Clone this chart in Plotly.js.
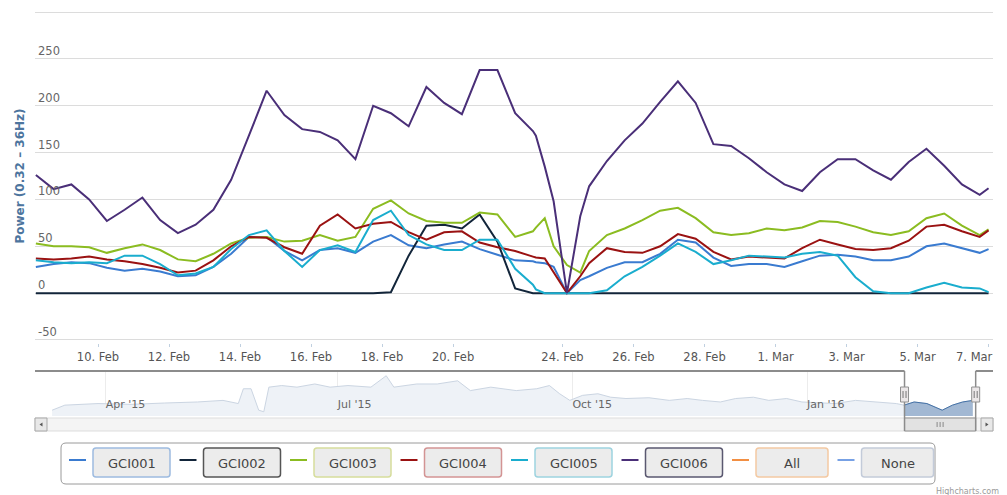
<!DOCTYPE html>
<html><head><meta charset="utf-8">
<script src="https://cdn.plot.ly/plotly-3.0.1.min.js"></script>
<style>html,body{margin:0;padding:0;background:#fff}#chart{width:1007px;height:495px}</style>
</head><body><div id="chart"></div>
<script>
// ---------- data ----------
const times = [
'2016-02-08 06:00','2016-02-08 18:00','2016-02-09 06:00','2016-02-09 18:00',
'2016-02-10 06:00','2016-02-10 18:00','2016-02-11 06:00','2016-02-11 18:00',
'2016-02-12 06:00','2016-02-12 18:00','2016-02-13 06:00','2016-02-13 18:00',
'2016-02-14 06:00','2016-02-14 18:00','2016-02-15 06:00','2016-02-15 18:00',
'2016-02-16 06:00','2016-02-16 18:00','2016-02-17 06:00','2016-02-17 18:00',
'2016-02-18 06:00','2016-02-18 18:00','2016-02-19 06:00','2016-02-19 18:00',
'2016-02-20 06:00','2016-02-20 18:00','2016-02-21 06:00','2016-02-21 18:00',
'2016-02-22 06:00',
'2016-02-23 06:00','2016-02-23 12:00','2016-02-23 18:00',
'2016-02-24 03:00','2016-02-24 12:00','2016-02-24 18:00',
'2016-02-25 06:00','2016-02-25 18:00','2016-02-26 06:00','2016-02-26 18:00',
'2016-02-27 06:00','2016-02-27 18:00','2016-02-28 06:00','2016-02-28 18:00',
'2016-02-29 06:00','2016-02-29 18:00','2016-03-01 06:00','2016-03-01 18:00',
'2016-03-02 06:00','2016-03-02 18:00','2016-03-03 06:00','2016-03-03 18:00',
'2016-03-04 06:00','2016-03-04 18:00','2016-03-05 06:00','2016-03-05 18:00',
'2016-03-06 06:00','2016-03-06 18:00','2016-03-07 00:00'
];
const gci001 = [28,31,33,32,27,24,26,23,18,19,28,42,60,60,45,35,46,48,43,55,62,51,48,52,55,47,41,35,34,
 33,32,28,0,14,18,27,33,33,42,57,54,38,29,31,31,28,34,40,41,39,35,35,39,50,53,48,43,47];
const gci002 = [0,0,0,0,0,0,0,0,0,0,0,0,0,0,0,0,0,0,0,0,1,40,72,73,69,84,55,5,0,
 0,0,0,0,0,0,0,0,0,0,0,0,0,0,0,0,0,0,0,0,0,0,0,0,0,0,0,0,0];
const gci003 = [53,50,50,49,43,48,52,46,36,34,42,53,59,60,55,56,62,56,60,90,99,85,77,75,75,86,84,60,66,
 70,80,50,30,22,45,62,69,78,88,91,80,65,62,64,69,67,70,77,76,71,65,62,66,80,85,72,62,68];
const gci004 = [37,36,37,39,36,34,31,27,22,24,35,50,60,59,49,42,72,84,69,74,76,65,57,65,66,54,49,45,39,
 38,37,22,0,18,32,48,44,43,50,63,58,44,36,39,38,37,48,57,52,47,46,48,56,71,73,66,60,67];
const gci005 = [35,33,32,33,32,40,40,31,19,21,28,47,62,67,45,28,46,51,44,78,88,62,52,46,46,57,57,26,9,
 4,0,0,0,0,0,3,18,28,40,53,44,31,35,40,39,38,42,44,40,17,2,0,0,6,11,6,5,1];
const gci006 = [126,111,116,100,77,89,102,78,64,73,89,121,168,216,190,175,172,163,143,200,192,178,220,203,191,238,238,192,173,
 168,135,98,0,82,114,141,163,181,204,226,203,159,157,144,129,116,109,129,143,143,131,121,140,154,136,116,105,112];

const seriesNames  = ['GCI001','GCI002','GCI003','GCI004','GCI005','GCI006'];
const seriesValues = [gci001, gci002, gci003, gci004, gci005, gci006];
const seriesColors = ['#3a7bd0','#12253a','#8bbc21','#9a1212','#1aadce','#4a2f78'];

const xTickVals = ['2016-02-10','2016-02-12','2016-02-14','2016-02-16','2016-02-18','2016-02-20',
  '2016-02-24','2016-02-26','2016-02-28','2016-03-01','2016-03-03','2016-03-05','2016-03-07'];
const xTickText = ['10. Feb','12. Feb','14. Feb','16. Feb','18. Feb','20. Feb',
  '24. Feb','26. Feb','28. Feb','1. Mar','3. Mar','5. Mar','7. Mar'];
const yTickVals = [-50,0,50,100,150,200,250,300];
const yTickText = ['-50','0','50','100','150','200','250',''];

// navigator (full period overview)
const navDates = ['2015-03-11','2015-03-16','2015-03-29','2015-04-11','2015-04-24','2015-05-07','2015-05-17',
 '2015-05-23','2015-05-25','2015-05-28','2015-05-31','2015-06-02','2015-06-04','2015-06-09','2015-06-15',
 '2015-06-22','2015-06-28','2015-07-05','2015-07-14','2015-07-20','2015-07-23','2015-08-01','2015-08-09',
 '2015-08-17','2015-08-22','2015-08-30','2015-09-09','2015-09-17','2015-09-22','2015-09-26','2015-09-30',
 '2015-10-05','2015-10-11','2015-10-16','2015-10-22','2015-10-31','2015-11-08','2015-11-15','2015-11-21',
 '2015-11-28','2015-12-04','2015-12-11','2015-12-17','2015-12-24','2015-12-30','2016-01-12','2016-01-20',
 '2016-01-28','2016-02-05','2016-02-08','2016-02-12','2016-02-17','2016-02-23','2016-02-27','2016-03-02','2016-03-06'];
const navValues = [22,41,47,44,49,53,59,47,103,103,22,16,109,115,109,121,109,115,109,152,109,121,121,133,96,109,
 96,103,115,84,59,78,84,71,66,69,59,66,59,53,66,71,59,66,53,47,59,53,47,41,53,47,22,41,53,59];
const navTickVals = ['2015-04-01','2015-07-01','2015-10-01','2016-01-01'];
const navTickText = ["Apr '15","Jul '15","Oct '15","Jan '16"];
const viewRange = ['2016-02-08 05:25','2016-03-07 03:00'];
const navRange  = ['2015-03-04 07:00','2016-03-13 22:00'];

const legendNames   = ['GCI001','GCI002','GCI003','GCI004','GCI005','GCI006','All','None'];
const legendColors  = ['#3a7bd0','#12253a','#8bbc21','#9a1212','#1aadce','#4a2f78','#f28f43','#77a1e5'];
const legendBorders = ['#9dbbe0','#555555','#d6dd9c','#d39494','#9dd3df','#5a5870','#f3c9a2','#c3cbd9'];

// ---------- helpers (pixel -> paper for decorations) ----------
const W = 1007, H = 495, L = 35, R = 14;
const px = x => (x - L) / (W - L - R);
const py = y => 1 - y / H;
function rrect(x0, y0, x1, y1, r) {
  return `M ${px(x0+r)},${py(y0)} L ${px(x1-r)},${py(y0)} Q ${px(x1)},${py(y0)} ${px(x1)},${py(y0+r)} ` +
         `L ${px(x1)},${py(y1-r)} Q ${px(x1)},${py(y1)} ${px(x1-r)},${py(y1)} L ${px(x0+r)},${py(y1)} ` +
         `Q ${px(x0)},${py(y1)} ${px(x0)},${py(y1-r)} L ${px(x0)},${py(y0+r)} Q ${px(x0)},${py(y0)} ${px(x0+r)},${py(y0)} Z`;
}
const FONT = 'DejaVu Sans, Verdana, sans-serif';
const toMs = s => new Date(s.replace(' ', 'T')).getTime();

// ---------- traces ----------
const traces = seriesNames.map((n, i) => ({
  type: 'scatter', mode: 'lines', name: n, x: times, y: seriesValues[i],
  line: {color: seriesColors[i], width: 2}, xaxis: 'x', yaxis: 'y', showlegend: false, hoverinfo: 'skip'
}));
// navigator: whole period (faded) + selected window (highlighted)
traces.push({
  type: 'scatter', mode: 'lines', name: 'Navigator', x: navDates, y: navValues, fill: 'tozeroy',
  fillcolor: '#eef2f7', line: {color: '#cbd5e2', width: 1}, xaxis: 'x2', yaxis: 'y2',
  showlegend: false, hoverinfo: 'skip'
});
const selIdx = navDates.map((d, i) => i).filter(i => toMs(navDates[i]) >= toMs(viewRange[0]) - 86400000 && toMs(navDates[i]) <= toMs(viewRange[1]));
traces.push({
  type: 'scatter', mode: 'lines', name: 'Navigator (view)', x: selIdx.map(i => navDates[i]), y: selIdx.map(i => navValues[i]),
  fill: 'tozeroy', fillcolor: 'rgba(69,114,167,0.45)', line: {color: '#4572A7', width: 1}, xaxis: 'x2', yaxis: 'y2',
  showlegend: false, hoverinfo: 'skip'
});

// ---------- shapes ----------
const shapes = [];
const navTop = 371, navBot = 416, sbTop = 418, sbBot = 431;
// scrollbar track
shapes.push({type:'rect', xref:'paper', yref:'paper', x0:0, x1:1, y0:py(sbBot), y1:py(sbTop),
  fillcolor:'#f4f4f4', line:{color:'#dddddd', width:1}, layer:'above'});
// buttons
[[35,47],[981,993]].forEach(b => shapes.push({type:'rect', xref:'paper', yref:'paper', x0:px(b[0]), x1:px(b[1]),
  y0:py(sbBot), y1:py(sbTop), fillcolor:'#e8e8e8', line:{color:'#a8a8a8', width:1}, layer:'above'}));
shapes.push({type:'path', xref:'paper', yref:'paper', layer:'above',
  path:`M ${px(39.5)},${py(424.5)} L ${px(42.5)},${py(422.5)} L ${px(42.5)},${py(426.5)} Z`, fillcolor:'#555', line:{width:0}});
shapes.push({type:'path', xref:'paper', yref:'paper', layer:'above',
  path:`M ${px(988.5)},${py(424.5)} L ${px(985.5)},${py(422.5)} L ${px(985.5)},${py(426.5)} Z`, fillcolor:'#555', line:{width:0}});
// thumb
shapes.push({type:'rect', xref:'x2', yref:'paper', x0:viewRange[0], x1:viewRange[1], y0:py(sbBot), y1:py(sbTop),
  fillcolor:'#e2e2e2', line:{color:'#8f8f8f', width:1}, layer:'above'});
const midMs = (toMs(viewRange[0]) + toMs(viewRange[1])) / 2;
[-3,0,3].forEach(o => shapes.push({type:'line', xref:'x2', yref:'paper', xsizemode:'pixel', xanchor:midMs,
  x0:o, x1:o, y0:py(427), y1:py(422), line:{color:'#888', width:1}, layer:'above'}));
// outline
shapes.push({type:'line', xref:'x2', yref:'paper', x0:navRange[0], x1:viewRange[0], y0:py(navTop), y1:py(navTop), line:{color:'#8c8c8c', width:2}, layer:'above'});
shapes.push({type:'line', xref:'x2', yref:'paper', x0:viewRange[1], x1:navRange[1], y0:py(navTop), y1:py(navTop), line:{color:'#8c8c8c', width:2}, layer:'above'});
viewRange.forEach(v => shapes.push({type:'line', xref:'x2', yref:'paper', x0:v, x1:v, y0:py(navTop), y1:py(sbBot), line:{color:'#8c8c8c', width:1.5}, layer:'above'}));
// handles
viewRange.forEach(v => {
  shapes.push({type:'rect', xref:'x2', yref:'paper', xsizemode:'pixel', xanchor:v, x0:-4, x1:4,
    y0:py(402), y1:py(387), fillcolor:'#ebe7e8', line:{color:'#909090', width:1}, layer:'above'});
  [-1.5,1.5].forEach(o => shapes.push({type:'line', xref:'x2', yref:'paper', xsizemode:'pixel', xanchor:v,
    x0:o, x1:o, y0:py(398), y1:py(391), line:{color:'#777', width:1}, layer:'above'}));
});
// legend
shapes.push({type:'path', xref:'paper', yref:'paper', path: rrect(61, 443, 935, 484, 5),
  fillcolor:'rgba(255,255,255,0)', line:{color:'#9a9a9a', width:1}, layer:'above'});
const annotations = [];
let lx = 69;
legendNames.forEach((n, i) => {
  const bw = i < 6 ? 77 : 72;
  shapes.push({type:'line', xref:'paper', yref:'paper', x0:px(lx), x1:px(lx+17), y0:py(460), y1:py(460),
    line:{color:legendColors[i], width:2}, layer:'above'});
  const b0 = lx + 24, b1 = b0 + bw;
  shapes.push({type:'path', xref:'paper', yref:'paper', path: rrect(b0, 448, b1, 477, 3),
    fillcolor:'#ececec', line:{color:legendBorders[i], width:1.5}, layer:'above'});
  annotations.push({xref:'paper', yref:'paper', x:px((b0+b1)/2), y:py(463), text:n, showarrow:false,
    xanchor:'center', yanchor:'middle', font:{family:FONT, size:13, color:'#444'}});
  lx = b1 + 9.5;
});
// last x label kept inside the chart edge (as the original does)
const lastTick = xTickVals.length - 1;
annotations.push({xref:'x', yref:'paper', x:xTickVals[lastTick], y:py(356.5), text:xTickText[lastTick], showarrow:false,
  xanchor:'right', yanchor:'middle', xshift:6, font:{family:FONT, size:11.5, color:'#555'}});
annotations.push({xref:'paper', yref:'paper', x:px(1001), y:py(491), text:'Highcharts.com', showarrow:false,
  xanchor:'right', yanchor:'middle', font:{family:FONT, size:8, color:'#9a9a9a'}});

const layout = {
  width: W, height: H, margin: {l: L, r: R, t: 0, b: 0, pad: 0},
  paper_bgcolor: '#ffffff', plot_bgcolor: 'rgba(0,0,0,0)',
  font: {family: FONT, color: '#666'},
  showlegend: false, hovermode: false,
  xaxis: {type:'date', domain:[0,1], anchor:'y', range: viewRange,
    rangebreaks: [{bounds: ['2016-02-22 08:00', '2016-02-23 06:00']}],
    tickmode:'array', tickvals: xTickVals, ticktext: xTickText.map((t, i) => i === lastTick ? ' ' : t),
    ticks:'outside', ticklen:3, tickcolor:'#C0D0E0', showgrid:false, showline:false, zeroline:false,
    tickfont:{family:FONT, size:11.5, color:'#555'}, automargin:false, fixedrange:true},
  yaxis: {domain:[py(342.8), py(9.2)], anchor:'x', range:[-53, 303],
    tickmode:'array', tickvals: yTickVals, ticktext: yTickText,
    ticklabelposition:'inside top', ticks:'', showgrid:true, gridcolor:'#dcdcdc', gridwidth:1,
    zeroline:false, showline:false, tickfont:{family:FONT, size:11.5, color:'#666'}, automargin:false,
    title:{text:'Power (0.32 – 36Hz)', standoff:10, font:{family:FONT, size:12, color:'#4d759e', weight:'bold'}}},
  xaxis2: {type:'date', domain:[0,1], anchor:'y2', range: navRange,
    tickmode:'array', tickvals: navTickVals, ticktext: navTickText, ticklabelposition:'inside right',
    ticks:'', showgrid:true, gridcolor:'#ececec', showline:false, zeroline:false,
    tickfont:{family:FONT, size:11, color:'#666'}, automargin:false},
  yaxis2: {domain:[py(navBot), py(navTop)], anchor:'x2', range:[0, 170], visible:false, showgrid:false, zeroline:false},
  shapes: shapes, annotations: annotations
};
Plotly.newPlot('chart', traces, layout, {displayModeBar:false, staticPlot:true});
</script></body></html>
